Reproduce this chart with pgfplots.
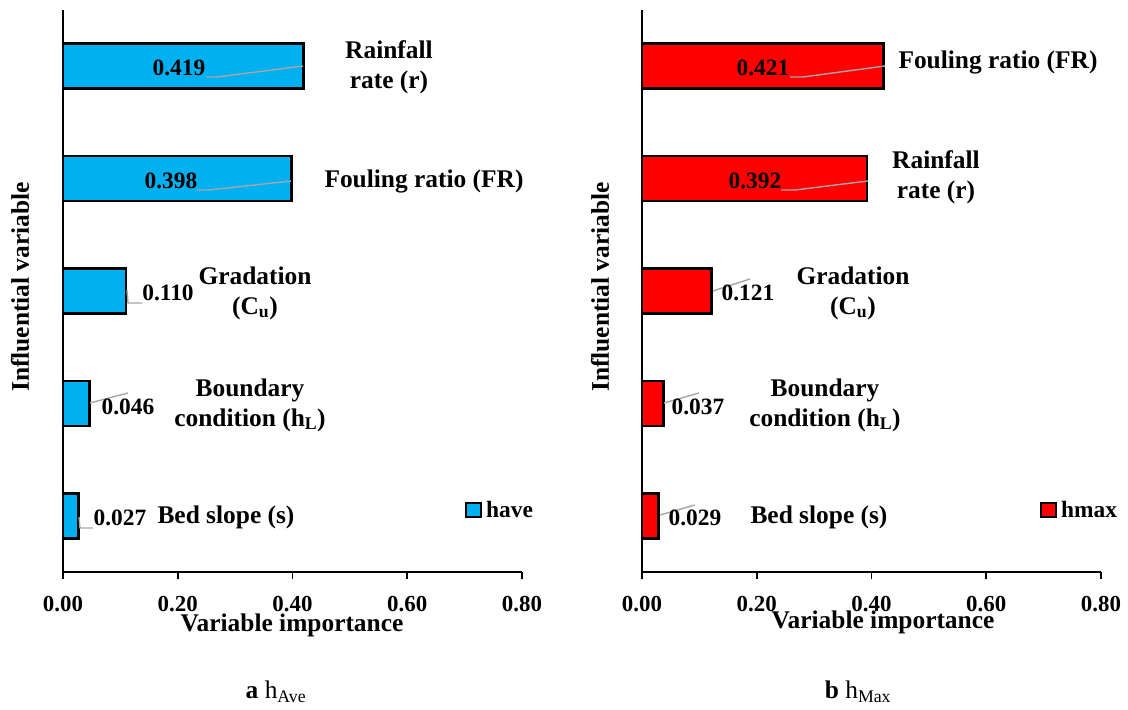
\documentclass[border=0pt]{standalone}
\usepackage{fontspec}
\setmainfont{Liberation Serif}[BoldFont={Liberation Serif Bold}, ItalicFont={Liberation Serif Italic}]
\usepackage{pgfplots}
\pgfplotsset{compat=1.18}
\definecolor{barblue}{RGB}{0,176,240}
\definecolor{barred}{RGB}{255,0,0}
\definecolor{leader}{RGB}{166,166,166}
\newcommand{\fs}[1]{\fontsize{#1}{#1}\selectfont}
\pgfplotsset{
  panel/.style={
    scale only axis, width=459bp, height=562bp,
    anchor=south west,
    xmin=0, xmax=0.8, ymin=0.5, ymax=5.5,
    xbar, bar width=0.4,
    axis x line*=bottom, axis y line*=left,
    ytick=\empty,
    xtick={0,0.2,0.4,0.6,0.8},
    tick align=outside, major tick length=7bp,
    axis line style={line width=1.6bp, black},
    every tick/.style={line width=1.6bp, black},
    xticklabel style={font=\bfseries\fs{23}, yshift=-14bp},
    /pgf/number format/assume math mode=true,
    /pgf/number format/.cd, fixed, fixed zerofill, precision=2,
  },
}
\begin{document}
\begin{tikzpicture}
\useasboundingbox (0,0) rectangle (1128bp,710bp);
% ---------------- left panel ----------------
\begin{axis}[panel, at={(63bp,138bp)}]
\addplot[fill=barblue, draw=black, line width=2.6bp]
  coordinates {(0.027,1) (0.046,2) (0.110,3) (0.398,4) (0.419,5)};
\end{axis}
% ---------------- right panel ----------------
\begin{axis}[panel, at={(642bp,138bp)}]
\addplot[fill=barred, draw=black, line width=2.6bp]
  coordinates {(0.029,1) (0.037,2) (0.121,3) (0.392,4) (0.421,5)};
\end{axis}
\begin{scope}[shift={(0,710bp)}, x=1bp, y=-1bp]
% axis titles
\node[font=\bfseries\fs{25.5}] at (292,625) {Variable importance};
\node[font=\bfseries\fs{25.5}] at (883,622) {Variable importance};
\node[font=\bfseries\fs{25.5}, rotate=90] at (20,287) {Influential variable};
\node[font=\bfseries\fs{25.5}, rotate=90] at (600,287) {Influential variable};
% captions
\node[font=\fs{25.5}] at (276,692) {\textbf{a} h\textsubscript{Ave}};
\node[font=\fs{25.5}] at (858,692) {\textbf{b} h\textsubscript{Max}};
% leader lines
\begin{scope}[draw=leader, line width=1.4bp]
\draw (206,77)--(217,77)--(303,66);
\draw (197,190)--(209,190)--(291,181);
\draw (127,290)--(128,303)--(142,303);
\draw (90,403)--(128,393);
\draw (79,517)--(80,528)--(93,528);
\draw (790,77)--(803,77)--(885,66);
\draw (781,190)--(795,190)--(868,181);
\draw (713,291)--(750,279);
\draw (664,403)--(699,393);
\draw (660,515)--(695,505);
\end{scope}
% value labels
\begin{scope}[every node/.style={font=\bfseries\fs{23.5}, inner sep=0pt}]
\node at (179,68) {0.419};
\node at (171,181) {0.398};
\node at (168,293) {0.110};
\node at (128,407) {0.046};
\node at (120,518) {0.027};
\node at (763,68) {0.421};
\node at (755,181) {0.392};
\node at (748,293) {0.121};
\node at (698,407) {0.037};
\node at (695,518) {0.029};
\end{scope}
% category labels
\begin{scope}[every node/.style={font=\bfseries\fs{25.5}, align=center, inner sep=0pt}]
\node[font=\bfseries\fontsize{25.5}{30}\selectfont] at (389,67) {Rainfall\\rate (r)};
\node at (424,181) {Fouling ratio (FR)};
\node[font=\bfseries\fontsize{25.5}{30}\selectfont] at (255,293) {Gradation\\(C\textsubscript{u})};
\node[font=\bfseries\fontsize{25.5}{30}\selectfont] at (250,405) {Boundary\\condition (h\textsubscript{L})};
\node at (226,517) {Bed slope (s)};
\node at (998,62) {Fouling ratio (FR)};
\node[font=\bfseries\fontsize{25.5}{30}\selectfont] at (936,177) {Rainfall\\rate (r)};
\node[font=\bfseries\fontsize{25.5}{30}\selectfont] at (853,293) {Gradation\\(C\textsubscript{u})};
\node[font=\bfseries\fontsize{25.5}{30}\selectfont] at (825,405) {Boundary\\condition (h\textsubscript{L})};
\node at (819,517) {Bed slope (s)};
\end{scope}
% legends
\draw[fill=barblue, draw=black, line width=2.6bp] (466,503) rectangle (481,517);
\node[font=\bfseries\fs{23.5}, anchor=west, inner sep=0pt] at (486,509) {have};
\draw[fill=barred, draw=black, line width=2.6bp] (1041,503) rectangle (1056,517);
\node[font=\bfseries\fs{23.5}, anchor=west, inner sep=0pt] at (1061,509) {hmax};
\end{scope}
\end{tikzpicture}
\end{document}
